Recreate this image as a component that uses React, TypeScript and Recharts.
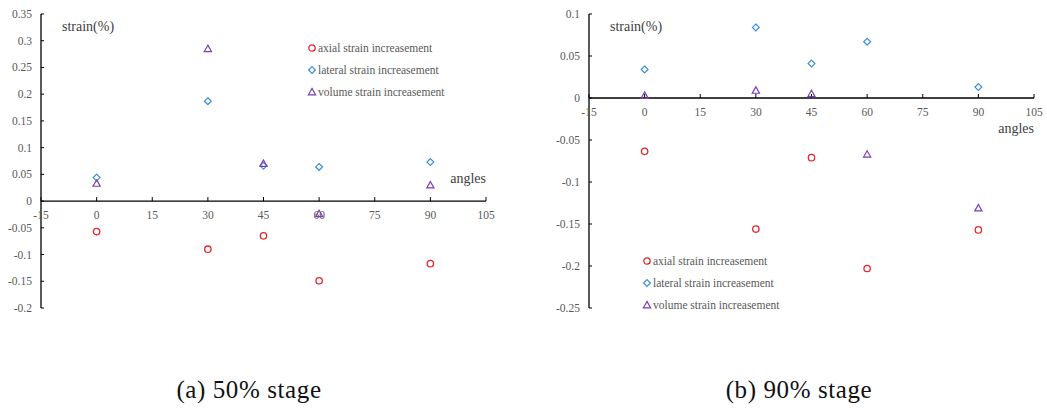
import { ScatterChart, Scatter, XAxis, YAxis, ReferenceLine, ReferenceDot } from 'recharts'

const ANGLES = [0, 30, 45, 60, 90]
const X_TICKS = [-15, 0, 15, 30, 45, 60, 75, 90, 105]

// (a) 50% stage
const AXIAL_50 = [-0.057, -0.09, -0.065, -0.149, -0.117]
const LATERAL_50 = [0.044, 0.187, 0.066, 0.064, 0.073]
const VOLUME_50 = [0.033, 0.285, 0.07, -0.024, 0.03]
const Y_TICKS_50 = [0.35, 0.3, 0.25, 0.2, 0.15, 0.1, 0.05, 0, -0.05, -0.1, -0.15, -0.2]

// (b) 90% stage
const AXIAL_90 = [-0.0635, -0.156, -0.071, -0.203, -0.157]
const LATERAL_90 = [0.034, 0.084, 0.041, 0.067, 0.013]
const VOLUME_90 = [0.003, 0.009, 0.005, -0.067, -0.131]
const Y_TICKS_90 = [0.1, 0.05, 0, -0.05, -0.1, -0.15, -0.2, -0.25]

const SERIES_NAMES = ['axial strain increasement', 'lateral strain increasement', 'volume strain increasement']

const RED = '#e0282c'
const BLUE = '#3a8dd8'
const PURPLE = '#7a3db5'
const AXIS = '#000'
const LABEL = '#595959'
const FONT = '"Liberation Serif", serif'

const fmt = (v: number) => String(Number(v.toFixed(2)))
const pts = (ys: number[]) => ANGLES.map((x, i) => ({ x, y: ys[i] }))

const Circle = ({ cx, cy }: any) => (
  <circle cx={cx} cy={cy} r={3.2} fill="none" stroke={RED} strokeWidth={1.3} />
)
const Diamond = ({ cx, cy }: any) => (
  <path d={`M${cx},${cy - 3.4}L${cx + 3.4},${cy}L${cx},${cy + 3.4}L${cx - 3.4},${cy}Z`}
    fill="none" stroke={BLUE} strokeWidth={1.2} />
)
const Triangle = ({ cx, cy }: any) => (
  <path d={`M${cx},${cy - 3.6}L${cx + 3.6},${cy + 2.8}L${cx - 3.6},${cy + 2.8}Z`}
    fill="none" stroke={PURPLE} strokeWidth={1.2} />
)
const SHAPES = [Circle, Diamond, Triangle]

const YTick = ({ x, y, payload }: any) => (
  <g>
    <text x={x} y={y} dy={4} textAnchor="end" style={{ fontFamily: FONT }} fontSize={11.5} fill={LABEL}>
      {fmt(payload.value)}
    </text>
    <line x1={x + 9} x2={x + 12} y1={y} y2={y} stroke={AXIS} />
  </g>
)

const XTick = (label: number) => ({ cx, cy }: any) => (
  <g>
    <line x1={cx} x2={cx} y1={cy} y2={cy - 4} stroke={AXIS} />
    <text x={cx} y={cy + 18} textAnchor="middle" style={{ fontFamily: FONT }} fontSize={11.5} fill={LABEL}>
      {label}
    </text>
  </g>
)

function Legend({ left, top }: { left: number; top: number }) {
  return (
    <div style={{ position: 'absolute', left, top, fontFamily: FONT, fontSize: 11.5, color: LABEL }}>
      {SERIES_NAMES.map((name, i) => {
        const Shape = SHAPES[i]
        return (
          <div key={name} style={{ display: 'flex', alignItems: 'center', height: 22 }}>
            <svg width={10} height={10} style={{ marginRight: 1 }}>
              <Shape cx={5} cy={5} />
            </svg>
            <span>{name}</span>
          </div>
        )
      })}
    </div>
  )
}

function Panel({
  left, yAxisWidth, marginRight, domain, yTicks, series, legend, angleTop,
}: {
  left: number
  yAxisWidth: number
  marginRight: number
  domain: [number, number]
  yTicks: number[]
  series: number[][]
  legend: { left: number; top: number }
  angleTop: number
}) {
  return (
    <div style={{ position: 'absolute', left, top: 0, width: 520, height: 330 }}>
      <ScatterChart width={520} height={330} margin={{ top: 14, right: marginRight, bottom: 22, left: 0 }}>
        <XAxis type="number" dataKey="x" domain={[-15, 105]} ticks={X_TICKS} hide />
        <YAxis
          type="number"
          dataKey="y"
          domain={domain}
          ticks={yTicks}
          width={yAxisWidth}
          axisLine={{ stroke: AXIS, strokeWidth: 1.3 }}
          tickLine={false}
          tickSize={0}
          tickMargin={9}
          tick={<YTick />}
          interval={0}
        />
        <ReferenceLine y={0} stroke={AXIS} strokeWidth={1.3} />
        {X_TICKS.map(t => (
          <ReferenceDot key={t} x={t} y={0} r={0} shape={XTick(t)} ifOverflow="visible" />
        ))}
        {series.map((ys, i) => (
          <Scatter key={i} name={SERIES_NAMES[i]} data={pts(ys)} shape={SHAPES[i]} isAnimationActive={false} />
        ))}
      </ScatterChart>
      <div style={{ position: 'absolute', left: yAxisWidth + 21, top: 19, fontFamily: FONT, fontSize: 14, color: '#404040' }}>
        strain(%)
      </div>
      <div style={{ position: 'absolute', right: marginRight, top: angleTop, fontFamily: FONT, fontSize: 14, color: '#404040' }}>
        angles
      </div>
      <Legend left={legend.left} top={legend.top} />
    </div>
  )
}

export default function App() {
  return (
    <div style={{ position: 'absolute', left: 0, top: 0, width: 1047, height: 408, background: '#fff' }}>
      <Panel
        left={0}
        yAxisWidth={41}
        marginRight={34}
        domain={[-0.2, 0.35]}
        yTicks={Y_TICKS_50}
        series={[AXIAL_50, LATERAL_50, VOLUME_50]}
        legend={{ left: 307, top: 37 }}
        angleTop={171}
      />
      <Panel
        left={527}
        yAxisWidth={62}
        marginRight={13}
        domain={[-0.25, 0.1]}
        yTicks={Y_TICKS_90}
        series={[AXIAL_90, LATERAL_90, VOLUME_90]}
        legend={{ left: 115, top: 250 }}
        angleTop={121}
      />
      <div style={{ position: 'absolute', left: 0, width: 498, top: 376, textAlign: 'center', fontFamily: FONT, fontSize: 25, letterSpacing: 0.6, color: '#111' }}>
        (a) 50% stage
      </div>
      <div style={{ position: 'absolute', left: 550, width: 498, top: 376, textAlign: 'center', fontFamily: FONT, fontSize: 25, letterSpacing: 0.6, color: '#111' }}>
        (b) 90% stage
      </div>
    </div>
  )
}
